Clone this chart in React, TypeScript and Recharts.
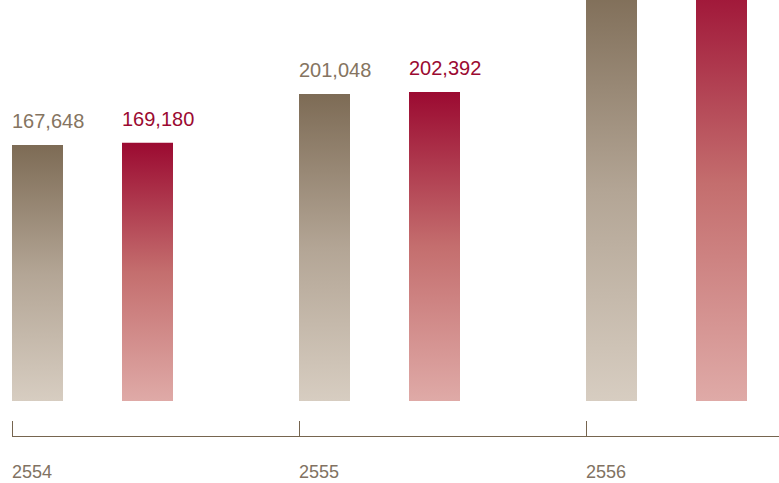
import { BarChart, Bar, XAxis, YAxis, LabelList } from 'recharts'

const years = ['2554', '2555', '2556']
const brownValues = [167648, 201048, 275000]
const redValues = [169180, 202392, 284000]

const data = years.map((year, i) => ({
    year,
    brown: brownValues[i],
    red: redValues[i]
}))

const FONT = '"Liberation Sans", Arial, Helvetica, sans-serif'
const AXIS_COLOR = '#76654f'
const PLOT_BOTTOM = 401
const BAND = 287

// ticks sit at the start of each bar group, not in the band centre
function YearTick(props: any) {
    const { x, payload } = props
    const x0 = x - 80.5 + 0.5
    const yLine = PLOT_BOTTOM + 35.5
    return (
        <g>
            <line x1={x0} y1={PLOT_BOTTOM + 20} x2={x0} y2={yLine} stroke={AXIS_COLOR} strokeWidth={1} />
            <line x1={x0 - 0.5} y1={yLine} x2={x0 + BAND} y2={yLine} stroke={AXIS_COLOR} strokeWidth={1} />
            <text x={x0 - 0.5} y={PLOT_BOTTOM + 77} fill="#817262" fontSize={18} fontFamily={FONT}>
                {payload.value}
            </text>
        </g>
    )
}

const makeLabel = (color: string) => (props: any) => {
    const { x, y, value } = props
    return (
        <text x={x} y={y - 17} fill={color} fontSize={20} fontFamily={FONT}>
            {Number(value).toLocaleString('en-US')}
        </text>
    )
}

export default function App() {
    return (
        <div style={{ position: 'absolute', left: 0, top: 0, width: 779, height: 483, overflow: 'hidden', background: '#fff' }}>
            <BarChart
                width={810}
                height={483}
                data={data}
                margin={{ top: -50, right: 0, bottom: 0, left: -51 }}
                barSize={51}
                barGap={59}
            >
                <defs>
                    <linearGradient id="gradBrown" x1="0" y1="0" x2="0" y2="1">
                        <stop offset="0%" stopColor="#7d6b55" />
                        <stop offset="50%" stopColor="#b3a595" />
                        <stop offset="100%" stopColor="#d7cdc1" />
                    </linearGradient>
                    <linearGradient id="gradRed" x1="0" y1="0" x2="0" y2="1">
                        <stop offset="0%" stopColor="#9b0a31" />
                        <stop offset="50%" stopColor="#c46e6e" />
                        <stop offset="100%" stopColor="#dfaaa7" />
                    </linearGradient>
                </defs>
                <XAxis
                    dataKey="year"
                    axisLine={false}
                    tickLine={false}
                    height={82}
                    interval={0}
                    tick={<YearTick />}
                />
                <YAxis hide domain={[0, 295350]} allowDataOverflow />
                <Bar dataKey="brown" fill="url(#gradBrown)" isAnimationActive={false}>
                    <LabelList dataKey="brown" content={makeLabel('#857461')} />
                </Bar>
                <Bar dataKey="red" fill="url(#gradRed)" isAnimationActive={false}>
                    <LabelList dataKey="red" content={makeLabel('#9b0a31')} />
                </Bar>
            </BarChart>
        </div>
    )
}
